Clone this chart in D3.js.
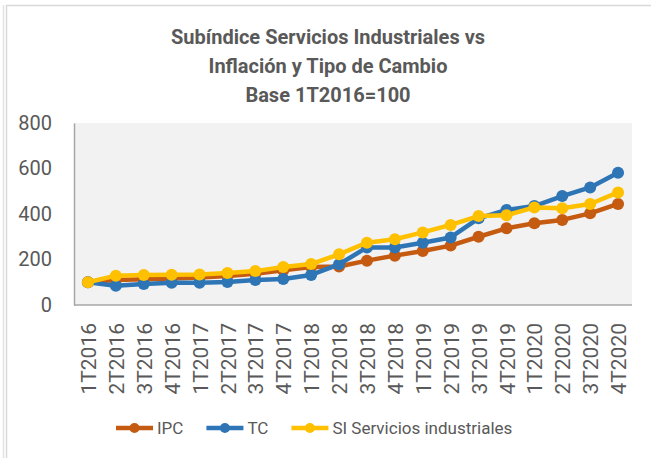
<!DOCTYPE html>
<html>
<head>
<meta charset="utf-8">
<script src="https://cdn.jsdelivr.net/npm/d3@7"></script>
<style>
  html, body { margin: 0; padding: 0; background: #fff; }
  svg { display: block; font-family: Roboto, "Open Sans", sans-serif; }
</style>
</head>
<body>
<svg id="chart" width="651" height="458"></svg>
<script>
// Quarters 1T2016 .. 4T2020
const quarters = [
  "1T2016", "2T2016", "3T2016", "4T2016",
  "1T2017", "2T2017", "3T2017", "4T2017",
  "1T2018", "2T2018", "3T2018", "4T2018",
  "1T2019", "2T2019", "3T2019", "4T2019",
  "1T2020", "2T2020", "3T2020", "4T2020"
];

// Index values, base 1T2016 = 100
const ipc = [100, 110, 113, 117, 121, 127, 137, 153, 167, 169, 195, 217, 237, 261, 300, 337, 359, 374, 403, 444];
const tc = [100, 85, 92, 98, 98, 101, 110, 114, 132, 179, 253, 253, 274, 297, 381, 418, 435, 479, 517, 581];
const si = [100, 129, 132, 133, 134, 141, 149, 167, 180, 223, 274, 289, 319, 352, 391, 394, 429, 425, 444, 495];

const yTicks = [0, 200, 400, 600, 800];

const titleLines = [
  "Subíndice Servicios Industriales vs",
  "Inflación y Tipo de Cambio",
  "Base 1T2016=100"
];

const series = [
  { name: "IPC", values: ipc, color: "#C55A11" },
  { name: "TC", values: tc, color: "#2E75B6" },
  { name: "SI Servicios industriales", values: si, color: "#FFC000" }
];

const TEXT = "#595959";
const plot = { left: 74, right: 632, top: 123, bottom: 305 };

const svg = d3.select("#chart");

// outer chart frame (light gray, partly cut off like the screenshot)
svg.append("line")
  .attr("x1", 3.5).attr("x2", 3.5).attr("y1", 5).attr("y2", 458)
  .attr("stroke", "#e3e3e3").attr("stroke-width", 1.5);
svg.append("rect")
  .attr("x", 6.5).attr("y", 5.5).attr("width", 660).attr("height", 470)
  .attr("fill", "none").attr("stroke", "#d9d9d9").attr("stroke-width", 1.5);

// title
svg.append("g")
  .selectAll("text")
  .data(titleLines)
  .join("text")
  .attr("x", 328)
  .attr("y", (d, i) => 44 + i * 29)
  .attr("text-anchor", "middle")
  .attr("fill", TEXT)
  .attr("font-weight", "bold")
  .attr("font-size", "20px")
  .text(d => d);

const x = d3.scalePoint()
  .domain(quarters)
  .range([plot.left, plot.right])
  .padding(0.5);

const y = d3.scaleLinear()
  .domain([0, 800])
  .range([plot.bottom, plot.top]);

// plot background
svg.append("rect")
  .attr("x", plot.left).attr("y", plot.top)
  .attr("width", plot.right - plot.left)
  .attr("height", plot.bottom - plot.top)
  .attr("fill", "#f2f2f2");

// y axis
const yAxis = svg.append("g")
  .attr("transform", "translate(" + plot.left + ",0)")
  .call(d3.axisLeft(y).tickValues(yTicks).tickSize(0).tickPadding(22));
yAxis.select(".domain").attr("stroke", "#a6a6a6").attr("stroke-width", 1.5);
yAxis.selectAll("text")
  .attr("fill", TEXT)
  .attr("font-size", "20px")
  .attr("font-family", "Roboto, sans-serif");

// x axis, labels rotated to read bottom-up
const xAxis = svg.append("g")
  .attr("transform", "translate(0," + plot.bottom + ")")
  .call(d3.axisBottom(x).tickSize(0).tickSizeOuter(0));
xAxis.select(".domain")
  .attr("d", "M" + plot.left + ",0H" + plot.right)
  .attr("stroke", "#a6a6a6").attr("stroke-width", 1.5);
xAxis.selectAll("text")
  .attr("fill", TEXT)
  .attr("font-size", "21px")
  .attr("font-family", "Roboto, sans-serif")
  .attr("text-anchor", "end")
  .attr("dy", "0.36em")
  .attr("transform", "translate(0,18) rotate(-90)")
  .attr("x", 0)
  .attr("y", 0);

// series lines + markers
const line = d3.line()
  .x((d, i) => x(quarters[i]))
  .y(d => y(d));

const sg = svg.append("g")
  .selectAll("g")
  .data(series)
  .join("g");

sg.append("path")
  .attr("d", d => line(d.values))
  .attr("fill", "none")
  .attr("stroke", d => d.color)
  .attr("stroke-width", 4.5)
  .attr("stroke-linejoin", "round");

sg.selectAll("circle")
  .data(d => d.values.map((v, i) => ({ v: v, i: i, color: d.color })))
  .join("circle")
  .attr("cx", d => x(quarters[d.i]))
  .attr("cy", d => y(d.v))
  .attr("r", 6)
  .attr("fill", d => d.color);

// legend
const legend = svg.append("g").attr("transform", "translate(0,428)");
let lx = 116;
series.forEach(function (s) {
  const item = legend.append("g").attr("transform", "translate(" + lx + ",0)");
  item.append("line")
    .attr("x1", 0).attr("x2", 37).attr("y1", 0).attr("y2", 0)
    .attr("stroke", s.color).attr("stroke-width", 4.5);
  item.append("circle")
    .attr("cx", 18.5).attr("cy", 0).attr("r", 5)
    .attr("fill", s.color);
  const t = item.append("text")
    .attr("x", 41)
    .attr("dy", "0.36em")
    .attr("fill", TEXT)
    .attr("font-size", "17px")
    .text(s.name);
  lx += 41 + t.node().getComputedTextLength() + 23;
});
</script>
</body>
</html>
